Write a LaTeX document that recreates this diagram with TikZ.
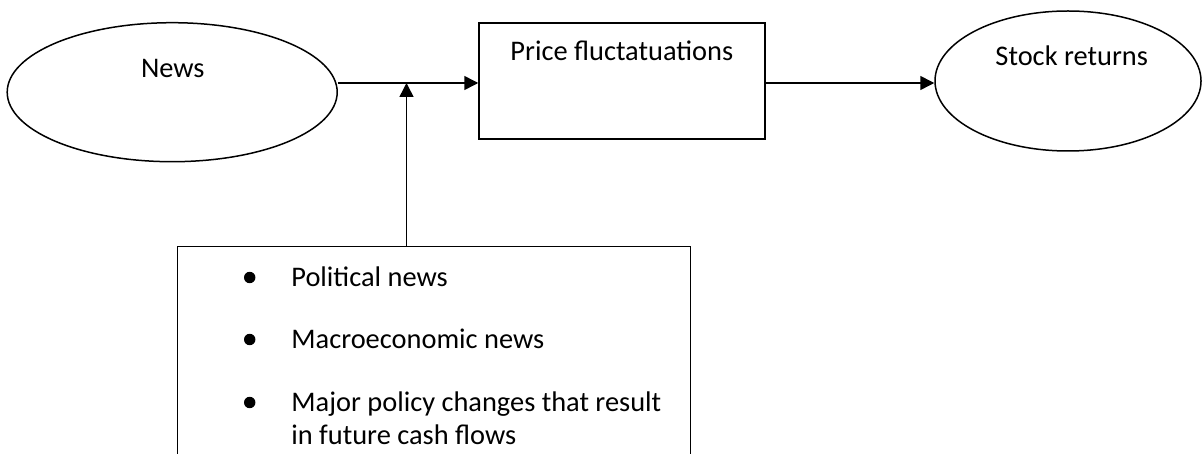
\documentclass[tikz,border=0pt]{standalone}
\usepackage{fontspec}
\setmainfont{Carlito}
\usetikzlibrary{shapes.geometric,arrows.meta}
\begin{document}
\begin{tikzpicture}[x=0.5pt,y=-0.5pt,
  every node/.style={font=\fontsize{14.2}{17}\selectfont},
  shapeline/.style={draw=black,line width=0.75pt},
  oval/.style={shapeline,ellipse,inner sep=0pt},
  boxnode/.style={shapeline,rectangle,inner sep=0pt},
  arr/.style={line width=0.75pt,-{Triangle[length=7pt,width=7pt]}},
  txt/.style={inner sep=0pt,anchor=base},
  itemtxt/.style={inner sep=0pt,anchor=base west},
  dot/.style={fill=black}]
\clip (0,0) rectangle (1202,454);
% shapes
\node[oval,minimum width=330*0.5pt,minimum height=139*0.5pt] (news) at (172.2,92.2) {};
\node[txt] (newslbl) at (172.8,77.3) {News};
\node[boxnode,minimum width=286*0.5pt,minimum height=116*0.5pt] (price) at (622,81) {};
\node[txt] (pricelbl) at (621.8,60.5) {Price fluctatuations};
\node[oval,minimum width=266*0.5pt,minimum height=140*0.5pt] (stock) at (1068,81) {};
\node[txt] (stocklbl) at (1071.7,65.7) {Stock returns};
\node[boxnode,minimum width=513*0.5pt,minimum height=240*0.5pt] (factors) at (434,366.5) {};
% bullet list
\fill[dot] (249.7,277.5) circle[radius=2.85pt];
\node[itemtxt] (i1) at (291,286) {Political news};
\fill[dot] (249.7,339.5) circle[radius=2.85pt];
\node[itemtxt] (i2) at (291,348) {Macroeconomic news};
\fill[dot] (249.7,402.5) circle[radius=2.85pt];
\node[itemtxt] (i3) at (291,411) {Major policy changes that result};
\node[itemtxt] (i4) at (291,444) {in future cash flows};
% connectors
\coordinate (junction) at (406.5,83);
\draw[arr] (news.east |- junction) -- (price.west |- junction);
\draw[arr] (factors.north -| junction) -- (junction);
\draw[arr] (price.east |- junction) -- (stock.west |- junction);
\end{tikzpicture}
\end{document}
